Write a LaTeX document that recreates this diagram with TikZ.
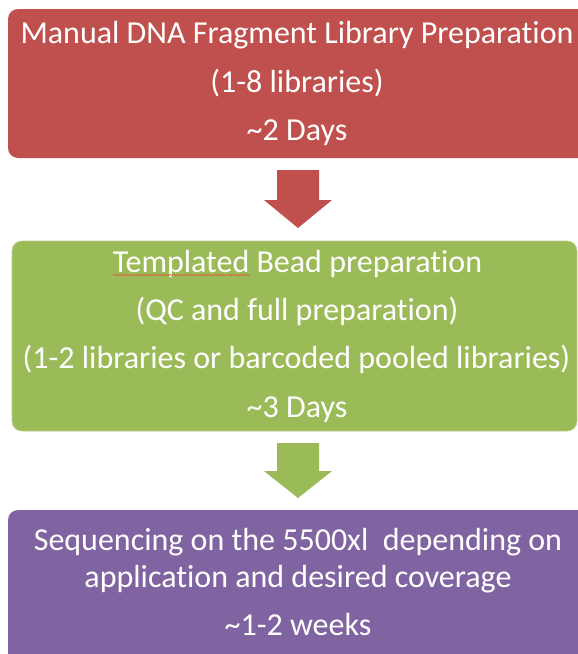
\documentclass[tikz,border=0pt]{standalone}
\usepackage{fontspec}
\setmainfont{Carlito}[Ligatures=NoCommon]
\usetikzlibrary{decorations.pathmorphing}
\definecolor{redbox}{HTML}{C0504D}
\definecolor{greenbox}{HTML}{9BBB59}
\definecolor{purplebox}{HTML}{8064A2}
\definecolor{spellred}{HTML}{E0603A}
\begin{document}
\begin{tikzpicture}[x=1pt,y=-1pt,
  box/.style={rounded corners=10pt, inner sep=0pt, draw=none},
  txt/.style={anchor=base, text=white, font=\fontsize{32}{38}\selectfont, inner sep=0pt}]
\useasboundingbox (0,0) rectangle (578,654);
\clip (0,0) rectangle (578,654);
% boxes
\node[box, fill=redbox, minimum width=592pt, minimum height=149pt] (r) at (304,83.5) {};
\node[box, fill=greenbox, draw=greenbox!70!white, line width=0.8pt, minimum width=565pt, minimum height=190pt] (g) at (294.5,336) {};
\node[box, fill=purplebox, minimum width=592pt, minimum height=170pt] (p) at (304,595) {};
% arrows
\fill[redbox] (277,170) -- (319,170) -- (319,200) -- (332,200) -- (298,228) -- (264,200) -- (277,200) -- cycle;
\fill[greenbox] (277,443) -- (319,443) -- (319,471) -- (332,471) -- (298,498) -- (264,471) -- (277,471) -- cycle;
% red texts
\node[txt] (r1) at (297,43) {Manual DNA Fragment Library Preparation};
\node[txt] (r2) at (297,92) {(1-8 libraries)};
\node[txt] (r3) at (297,140) {\textasciitilde 2 Days};
% green texts
\node[txt] (g1) at (297.5,272) {Templated Bead preparation};
\node[txt] (g2) at (297,320) {(QC and full preparation)};
\node[txt] (g3) at (296.5,368) {(1-2 libraries or barcoded pooled libraries)};
\node[txt] (g4) at (297,417) {\textasciitilde 3 Days};
\draw[spellred, line width=0.7pt, decorate, decoration={snake, amplitude=0.8pt, segment length=3.5pt}] (113,275) -- (250,275);
% purple texts
\node[txt] (p1) at (298,550) {Sequencing on the 5500xl\ \ depending on};
\node[txt] (p2) at (298,587) {application and desired coverage};
\node[txt] (p3) at (298,635) {\textasciitilde 1-2 weeks};
\end{tikzpicture}
\end{document}
